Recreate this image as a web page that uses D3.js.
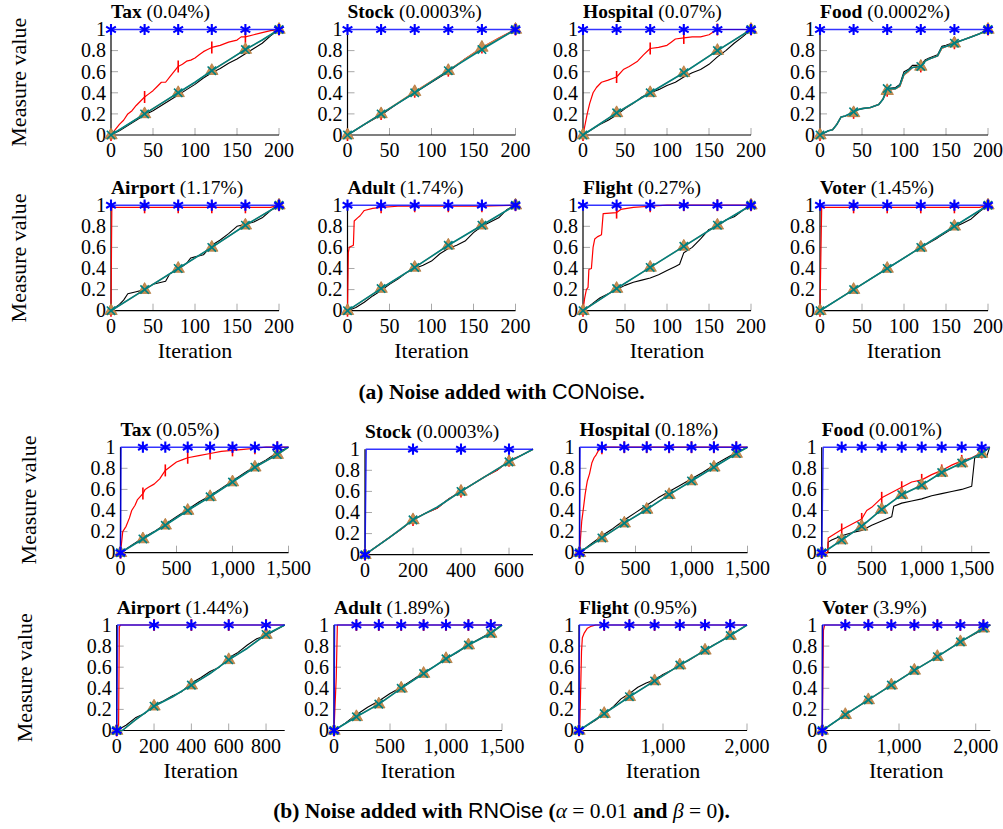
<!DOCTYPE html>
<html lang="en">
<head>
  <meta charset="UTF-8">
  <title>Measure value per iteration</title>
  <style>
    html, body {
      margin: 0;
      padding: 0;
      background: #fff;
    }

    svg text {
      font-family: "Liberation Serif", "Times New Roman", serif;
      fill: #000;
    }

    .tick-label { font-size: 20px; }
    .title { font-size: 19.5px; }
    .axis-label { font-size: 22px; }
    .caption { font-size: 21.5px; }
    .sans { font-family: "Liberation Sans", Arial, sans-serif; }
  </style>
</head>
<body>
  <script src="https://d3js.org/d3.v7.min.js"></script>
  <script>
    // ---- data: [iteration, measure value] ----------------------------------

    // (a) noise added with CONoise, 200 iterations
    const blueA = [[0, 1], [40, 1], [80, 1], [120, 1], [160, 1], [200, 1]]

    const taxA_red = [[0, 0], [5, 0.05], [10, 0.1], [15, 0.14], [20, 0.2], [25, 0.23], [30, 0.28], [35, 0.32], [40, 0.36], [45, 0.39], [50, 0.42], [55, 0.46], [60, 0.5], [65, 0.5], [70, 0.55], [75, 0.6], [80, 0.65], [85, 0.67], [90, 0.7], [95, 0.71], [100, 0.73], [105, 0.76], [110, 0.79], [115, 0.81], [120, 0.83], [130, 0.85], [140, 0.88], [150, 0.9], [155, 0.93], [160, 0.93], [170, 0.95], [180, 0.97], [190, 0.99], [200, 1]]
    const taxA_black = [[0, 0], [10, 0.04], [20, 0.09], [30, 0.14], [40, 0.19], [50, 0.23], [60, 0.28], [70, 0.33], [80, 0.38], [90, 0.43], [100, 0.48], [110, 0.54], [120, 0.59], [130, 0.63], [140, 0.68], [150, 0.72], [160, 0.77], [170, 0.82], [180, 0.87], [190, 0.94], [200, 1]]
    const taxA_teal = [[0, 0], [20, 0.1], [40, 0.2], [60, 0.3], [80, 0.4], [100, 0.5], [120, 0.61], [140, 0.71], [160, 0.81], [180, 0.9], [200, 1]]

    const stockA_red = [[0, 0], [20, 0.1], [40, 0.2], [60, 0.3], [80, 0.41], [100, 0.51], [120, 0.61], [140, 0.72], [160, 0.83], [180, 0.92], [200, 1]]
    const stockA_black = [[0, 0], [20, 0.1], [40, 0.19], [60, 0.3], [80, 0.4], [100, 0.5], [120, 0.6], [140, 0.72], [160, 0.82], [180, 0.91], [200, 1]]
    const stockA_teal = [[0, 0], [40, 0.2], [80, 0.4], [120, 0.61], [160, 0.81], [200, 1]]
    const stockA_orange = [[0, 0], [40, 0.2], [80, 0.41], [120, 0.61], [160, 0.83], [200, 1]]

    const hospA_red = [[0, 0], [2, 0.08], [5, 0.2], [8, 0.3], [12, 0.4], [16, 0.45], [22, 0.5], [30, 0.52], [40, 0.55], [48, 0.62], [55, 0.65], [65, 0.7], [72, 0.76], [80, 0.82], [90, 0.83], [100, 0.85], [105, 0.88], [110, 0.91], [120, 0.92], [130, 0.93], [140, 0.93], [150, 0.95], [156, 0.98], [160, 1], [200, 1]]
    const hospA_black = [[0, 0], [10, 0.05], [20, 0.1], [30, 0.14], [40, 0.19], [50, 0.25], [60, 0.3], [70, 0.36], [80, 0.4], [90, 0.43], [100, 0.47], [110, 0.5], [120, 0.55], [130, 0.59], [140, 0.62], [150, 0.67], [160, 0.74], [170, 0.8], [180, 0.87], [190, 0.93], [200, 1]]
    const hospA_teal = [[0, 0], [40, 0.21], [80, 0.4], [120, 0.59], [160, 0.8], [200, 1]]

    const foodA_red = [[0, 0], [10, 0.04], [15, 0.05], [20, 0.1], [25, 0.17], [30, 0.18], [40, 0.21], [45, 0.24], [50, 0.25], [60, 0.26], [70, 0.29], [75, 0.34], [80, 0.42], [90, 0.44], [95, 0.46], [100, 0.57], [105, 0.6], [110, 0.64], [120, 0.65], [125, 0.7], [130, 0.72], [140, 0.75], [145, 0.82], [150, 0.84], [160, 0.87], [170, 0.9], [180, 0.93], [190, 0.96], [200, 1]]
    const foodA_black = [[0, 0], [10, 0.04], [15, 0.05], [20, 0.1], [25, 0.17], [30, 0.18], [40, 0.21], [45, 0.24], [50, 0.25], [60, 0.26], [70, 0.29], [75, 0.34], [80, 0.44], [90, 0.45], [95, 0.48], [100, 0.6], [105, 0.62], [110, 0.66], [120, 0.66], [125, 0.71], [130, 0.73], [140, 0.76], [145, 0.84], [150, 0.85], [160, 0.88], [170, 0.9], [180, 0.93], [190, 0.96], [200, 1]]
    const foodA_teal = [[0, 0], [10, 0.04], [15, 0.05], [20, 0.1], [25, 0.17], [30, 0.18], [40, 0.22], [45, 0.24], [50, 0.25], [60, 0.26], [70, 0.29], [75, 0.34], [80, 0.44], [90, 0.44], [95, 0.47], [100, 0.58], [105, 0.61], [110, 0.64], [120, 0.65], [125, 0.7], [130, 0.72], [140, 0.75], [145, 0.83], [150, 0.84], [160, 0.87], [170, 0.9], [180, 0.93], [190, 0.96], [200, 1]]

    const airA_red = [[0, 0], [1, 0.98], [40, 0.98], [80, 0.98], [120, 0.98], [160, 0.98], [190, 0.98], [200, 1]]
    const airA_black = [[0, 0], [5, 0.03], [10, 0.06], [15, 0.1], [20, 0.16], [30, 0.18], [40, 0.2], [50, 0.25], [60, 0.27], [65, 0.28], [70, 0.35], [80, 0.39], [90, 0.45], [95, 0.5], [100, 0.51], [110, 0.53], [120, 0.62], [130, 0.67], [140, 0.73], [150, 0.8], [160, 0.82], [170, 0.84], [180, 0.88], [190, 0.95], [200, 1]]
    const airA_teal = [[0, 0], [40, 0.2], [80, 0.4], [120, 0.6], [160, 0.81], [200, 1]]

    const adultA_red = [[0, 0], [1, 0.55], [2, 0.6], [7, 0.62], [8, 0.85], [12, 0.88], [15, 0.9], [20, 0.95], [30, 0.97], [40, 0.98], [60, 0.99], [80, 0.99], [120, 0.99], [160, 0.99], [200, 1]]
    const adultA_black = [[0, 0], [10, 0.03], [20, 0.08], [30, 0.14], [40, 0.19], [50, 0.25], [60, 0.3], [70, 0.36], [80, 0.4], [90, 0.43], [100, 0.47], [110, 0.54], [120, 0.59], [130, 0.62], [140, 0.66], [150, 0.74], [160, 0.8], [170, 0.84], [180, 0.88], [190, 0.96], [200, 1]]
    const adultA_teal = [[0, 0], [40, 0.21], [80, 0.41], [120, 0.62], [160, 0.81], [200, 1]]

    const flightA_red = [[0, 0], [2, 0.12], [4, 0.2], [6, 0.22], [7, 0.39], [10, 0.4], [12, 0.6], [14, 0.68], [17, 0.7], [22, 0.72], [24, 0.92], [40, 0.93], [45, 0.96], [60, 0.98], [80, 0.99], [100, 1], [120, 1], [160, 1], [200, 1]]
    const flightA_black = [[0, 0], [10, 0.06], [20, 0.12], [30, 0.16], [40, 0.2], [50, 0.24], [60, 0.27], [70, 0.29], [80, 0.31], [90, 0.34], [100, 0.38], [110, 0.42], [115, 0.44], [120, 0.55], [130, 0.6], [140, 0.68], [150, 0.77], [160, 0.8], [170, 0.86], [180, 0.89], [190, 0.95], [200, 1]]
    const flightA_teal = [[0, 0], [40, 0.21], [80, 0.41], [120, 0.61], [160, 0.81], [200, 1]]

    const voterA_red = [[0, 0], [1, 0.5], [2, 0.98], [40, 0.98], [80, 0.98], [120, 0.98], [160, 0.98], [190, 0.98], [200, 1]]
    const voterA_black = [[0, 0], [20, 0.1], [40, 0.2], [60, 0.3], [80, 0.4], [100, 0.5], [120, 0.6], [140, 0.69], [160, 0.79], [170, 0.83], [180, 0.87], [190, 0.94], [200, 1]]
    const voterA_teal = [[0, 0], [40, 0.2], [80, 0.4], [120, 0.6], [160, 0.8], [200, 1]]

    // (b) noise added with RNOise
    const taxB_blue = [[0, 0], [5, 1], [200, 1], [400, 1], [600, 1], [800, 1], [1000, 1], [1200, 1], [1400, 1], [1500, 1]]
    const taxB_red = [[0, 0], [10, 0.1], [20, 0.2], [50, 0.25], [80, 0.33], [100, 0.4], [130, 0.45], [150, 0.5], [200, 0.56], [220, 0.6], [250, 0.62], [300, 0.65], [350, 0.7], [400, 0.78], [450, 0.82], [500, 0.86], [550, 0.88], [600, 0.9], [700, 0.92], [800, 0.94], [900, 0.96], [1000, 0.97], [1100, 0.98], [1200, 0.99], [1300, 1], [1400, 1], [1500, 1]]
    const taxB_black = [[0, 0], [100, 0.07], [200, 0.14], [300, 0.2], [400, 0.27], [500, 0.34], [600, 0.41], [700, 0.48], [800, 0.54], [900, 0.61], [1000, 0.68], [1100, 0.75], [1200, 0.82], [1300, 0.88], [1400, 0.95], [1500, 1]]
    const taxB_teal = [[0, 0], [200, 0.13], [400, 0.26], [600, 0.4], [800, 0.53], [1000, 0.67], [1200, 0.81], [1400, 0.93], [1500, 1]]

    const stockB_blue = [[0, 0], [5, 1], [200, 1], [400, 1], [600, 1], [700, 1]]
    const stockB_black = [[0, 0], [50, 0.08], [100, 0.16], [150, 0.24], [200, 0.33], [250, 0.39], [300, 0.44], [350, 0.53], [400, 0.6], [450, 0.67], [500, 0.74], [550, 0.8], [600, 0.89], [650, 0.94], [700, 1]]
    const stockB_teal = [[0, 0], [100, 0.16], [200, 0.33], [300, 0.45], [400, 0.6], [500, 0.74], [600, 0.88], [700, 1]]

    const hospB_blue = [[0, 0], [5, 1], [200, 1], [400, 1], [600, 1], [800, 1], [1000, 1], [1200, 1], [1400, 1], [1500, 1]]
    const hospB_red = [[0, 0], [10, 0.15], [20, 0.3], [30, 0.38], [50, 0.55], [60, 0.62], [70, 0.68], [90, 0.75], [110, 0.85], [130, 0.9], [150, 0.93], [170, 0.97], [190, 0.98], [200, 0.99], [215, 1], [400, 1], [600, 1], [800, 1], [1000, 1], [1200, 1], [1400, 1], [1500, 1]]
    const hospB_black = [[0, 0], [100, 0.08], [200, 0.16], [300, 0.23], [400, 0.31], [500, 0.38], [600, 0.45], [700, 0.52], [800, 0.58], [900, 0.64], [1000, 0.7], [1100, 0.76], [1200, 0.83], [1300, 0.89], [1400, 0.95], [1500, 1]]
    const hospB_teal = [[0, 0], [200, 0.14], [400, 0.28], [600, 0.41], [800, 0.55], [1000, 0.68], [1200, 0.81], [1400, 0.94], [1500, 1]]

    const foodB_blue = [[0, 0], [15, 1], [200, 1], [400, 1], [600, 1], [800, 1], [1000, 1], [1200, 1], [1400, 1], [1600, 1], [1680, 1]]
    const foodB_red = [[0, 0], [60, 0], [65, 0.14], [100, 0.16], [200, 0.22], [300, 0.27], [400, 0.32], [450, 0.4], [500, 0.43], [600, 0.52], [700, 0.57], [800, 0.62], [900, 0.67], [1000, 0.69], [1100, 0.74], [1200, 0.78], [1300, 0.83], [1400, 0.87], [1500, 0.9], [1600, 0.95], [1680, 1]]
    const foodB_black = [[0, 0], [60, 0], [65, 0.1], [100, 0.12], [200, 0.16], [300, 0.19], [400, 0.21], [500, 0.26], [600, 0.3], [700, 0.34], [720, 0.44], [800, 0.47], [900, 0.49], [1000, 0.51], [1100, 0.54], [1200, 0.56], [1300, 0.58], [1400, 0.6], [1500, 0.63], [1530, 0.9], [1600, 0.91], [1650, 0.91], [1680, 1]]
    const foodB_teal = [[0, 0], [60, 0.03], [200, 0.12], [400, 0.25], [600, 0.41], [800, 0.55], [1000, 0.64], [1200, 0.76], [1400, 0.85], [1600, 0.94], [1680, 1]]

    const airB_blue = [[0, 0], [5, 1], [200, 1], [400, 1], [600, 1], [800, 1], [900, 1]]
    const airB_red = [[0, 0], [10, 0], [14, 0.98], [20, 1], [200, 1], [400, 1], [600, 1], [800, 1], [900, 1]]
    const airB_black = [[0, 0], [50, 0.05], [100, 0.12], [150, 0.16], [200, 0.24], [250, 0.28], [300, 0.33], [350, 0.37], [400, 0.45], [450, 0.5], [500, 0.56], [550, 0.6], [600, 0.69], [650, 0.74], [700, 0.81], [750, 0.87], [800, 0.9], [850, 0.95], [900, 1]]
    const airB_teal = [[0, 0], [30, 0], [100, 0.1], [200, 0.23], [300, 0.32], [400, 0.43], [500, 0.54], [600, 0.67], [700, 0.78], [800, 0.91], [900, 1]]

    const adultB_blue = [[0, 0], [5, 1], [200, 1], [400, 1], [600, 1], [800, 1], [1000, 1], [1200, 1], [1400, 1], [1500, 1]]
    const adultB_red = [[0, 0], [20, 0.5], [30, 1], [200, 1], [400, 1], [600, 1], [800, 1], [1000, 1], [1200, 1], [1400, 1], [1500, 1]]
    const adultB_black = [[0, 0], [100, 0.07], [200, 0.15], [300, 0.22], [400, 0.28], [500, 0.35], [600, 0.41], [700, 0.48], [800, 0.55], [900, 0.61], [1000, 0.68], [1100, 0.74], [1200, 0.81], [1300, 0.87], [1400, 0.93], [1500, 1]]
    const adultB_teal = [[0, 0], [200, 0.13], [400, 0.25], [600, 0.4], [800, 0.54], [1000, 0.68], [1200, 0.81], [1400, 0.92], [1500, 1]]

    const flightB_blue = [[0, 0], [5, 1], [300, 1], [600, 1], [900, 1], [1200, 1], [1500, 1], [1800, 1], [2000, 1]]
    const flightB_red = [[0, 0], [10, 0.05], [20, 0.4], [30, 0.75], [40, 0.88], [60, 0.92], [100, 0.97], [150, 0.99], [200, 1], [300, 1], [600, 1], [900, 1], [1200, 1], [1500, 1], [1800, 1], [2000, 1]]
    const flightB_black = [[0, 0], [100, 0.05], [200, 0.1], [300, 0.16], [400, 0.22], [500, 0.3], [600, 0.35], [700, 0.41], [800, 0.45], [900, 0.48], [1000, 0.53], [1100, 0.57], [1200, 0.62], [1300, 0.66], [1400, 0.71], [1500, 0.76], [1600, 0.81], [1700, 0.85], [1800, 0.9], [1900, 0.95], [2000, 1]]
    const flightB_teal = [[0, 0], [300, 0.16], [600, 0.32], [900, 0.47], [1200, 0.62], [1500, 0.76], [1800, 0.9], [2000, 1]]

    const voterB_blue = [[0, 0], [5, 1], [300, 1], [600, 1], [900, 1], [1200, 1], [1500, 1], [1800, 1], [2100, 1], [2190, 1]]
    const voterB_red = [[0, 0], [15, 0.95], [30, 1], [300, 1], [600, 1], [900, 1], [1200, 1], [1500, 1], [1800, 1], [2100, 1], [2190, 1]]
    const voterB_black = [[0, 0], [300, 0.15], [600, 0.29], [900, 0.43], [1050, 0.5], [1200, 0.57], [1500, 0.7], [1800, 0.84], [1950, 0.9], [2100, 0.96], [2190, 1]]
    const voterB_teal = [[0, 0], [300, 0.15], [600, 0.29], [900, 0.43], [1200, 0.57], [1500, 0.7], [1800, 0.84], [2100, 0.97], [2190, 1]]

    // tick values
    const yTicks = [0, 0.2, 0.4, 0.6, 0.8, 1]
    const ticksA = [0, 50, 100, 150, 200]
    const ticks1500 = [0, 500, 1000, 1500]
    const ticks700 = [0, 200, 400, 600]
    const ticks900 = [0, 200, 400, 600, 800]
    const ticks2000 = [0, 1000, 2000]

    const panels = [
      { row: 0, col: 0, name: 'Tax', pct: '(0.04%)', xmax: 200, xticks: ticksA, step: 40, blue: blueA, red: taxA_red, black: taxA_black, orange: taxA_teal, teal: taxA_teal },
      { row: 0, col: 1, name: 'Stock', pct: '(0.0003%)', xmax: 200, xticks: ticksA, step: 40, blue: blueA, red: stockA_red, black: stockA_black, orange: stockA_orange, teal: stockA_teal },
      { row: 0, col: 2, name: 'Hospital', pct: '(0.07%)', xmax: 200, xticks: ticksA, step: 40, blue: blueA, red: hospA_red, black: hospA_black, orange: hospA_teal, teal: hospA_teal },
      { row: 0, col: 3, name: 'Food', pct: '(0.0002%)', xmax: 200, xticks: ticksA, step: 40, blue: blueA, red: foodA_red, black: foodA_black, orange: foodA_red, teal: foodA_teal },
      { row: 1, col: 0, name: 'Airport', pct: '(1.17%)', xmax: 200, xticks: ticksA, step: 40, blue: blueA, red: airA_red, black: airA_black, orange: airA_teal, teal: airA_teal },
      { row: 1, col: 1, name: 'Adult', pct: '(1.74%)', xmax: 200, xticks: ticksA, step: 40, blue: blueA, red: adultA_red, black: adultA_black, orange: adultA_teal, teal: adultA_teal },
      { row: 1, col: 2, name: 'Flight', pct: '(0.27%)', xmax: 200, xticks: ticksA, step: 40, blue: blueA, red: flightA_red, black: flightA_black, orange: flightA_teal, teal: flightA_teal },
      { row: 1, col: 3, name: 'Voter', pct: '(1.45%)', xmax: 200, xticks: ticksA, step: 40, blue: blueA, red: voterA_red, black: voterA_black, orange: voterA_teal, teal: voterA_teal },
      { row: 2, col: 0, name: 'Tax', pct: '(0.05%)', xmax: 1500, xticks: ticks1500, step: 200, blue: taxB_blue, red: taxB_red, black: taxB_black, orange: taxB_teal, teal: taxB_teal },
      { row: 2, col: 1, name: 'Stock', pct: '(0.0003%)', xmax: 700, xticks: ticks700, step: 200, blue: stockB_blue, red: stockB_black, black: stockB_black, orange: stockB_teal, teal: stockB_teal },
      { row: 2, col: 2, name: 'Hospital', pct: '(0.18%)', xmax: 1500, xticks: ticks1500, step: 200, blue: hospB_blue, red: hospB_red, black: hospB_black, orange: hospB_teal, teal: hospB_teal },
      { row: 2, col: 3, name: 'Food', pct: '(0.001%)', xmax: 1680, xticks: ticks1500, step: 200, blue: foodB_blue, red: foodB_red, black: foodB_black, orange: foodB_teal, teal: foodB_teal },
      { row: 3, col: 0, name: 'Airport', pct: '(1.44%)', xmax: 900, xticks: ticks900, step: 200, blue: airB_blue, red: airB_red, black: airB_black, orange: airB_teal, teal: airB_teal },
      { row: 3, col: 1, name: 'Adult', pct: '(1.89%)', xmax: 1500, xticks: ticks1500, step: 200, blue: adultB_blue, red: adultB_red, black: adultB_black, orange: adultB_teal, teal: adultB_teal },
      { row: 3, col: 2, name: 'Flight', pct: '(0.95%)', xmax: 2000, xticks: ticks2000, step: 300, blue: flightB_blue, red: flightB_red, black: flightB_black, orange: flightB_teal, teal: flightB_teal },
      { row: 3, col: 3, name: 'Voter', pct: '(3.9%)', xmax: 2190, xticks: ticks2000, step: 300, blue: voterB_blue, red: voterB_red, black: voterB_black, orange: voterB_teal, teal: voterB_teal },
    ]

    // ---- layout -------------------------------------------------------------

    const width = 1003, height = 829
    const plotW = 168, plotH = 105.5
    const rowZero = [135, 310.7, 552.7, 730.5]
    const colLeft = [
      [111, 347.5, 583, 820],
      [111, 347.5, 583, 820],
      [120.5, 365, 579.5, 821.7],
      [116.7, 334, 579, 822.3],
    ]
    const panelShift = { '2-1': 2 }

    const styles = {
      black:  { color: '#000000', width: 1.1, mark: 'none' },
      red:    { color: '#ff0000', width: 1.2, mark: 'bar' },
      orange: { color: '#c98c50', width: 1.3, mark: 'triangle' },
      teal:   { color: '#008080', width: 1.6, mark: 'cross' },
      blue:   { color: '#0000ff', width: 1.5, mark: 'asterisk', opacity: 0.8 },
    }
    const drawOrder = ['black', 'red', 'orange', 'teal', 'blue']

    const markPath = (type) => {
      const p = d3.path()
      if (type === 'asterisk') {
        const r = 5.6, c = r * Math.cos(Math.PI / 6), s = r * Math.sin(Math.PI / 6)
        p.moveTo(0, -r); p.lineTo(0, r)
        p.moveTo(-c, -s); p.lineTo(c, s)
        p.moveTo(-c, s); p.lineTo(c, -s)
      } else if (type === 'bar') {
        p.moveTo(0, -6); p.lineTo(0, 6)
      } else if (type === 'triangle') {
        p.moveTo(0, -7); p.lineTo(6.2, 3.8); p.lineTo(-6.2, 3.8); p.closePath()
      } else if (type === 'cross') {
        const r = 4.2
        p.moveTo(-r, -r); p.lineTo(r, r)
        p.moveTo(-r, r); p.lineTo(r, -r)
      }
      return p.toString()
    }

    const svg = d3.select('body')
      .append('svg')
      .attr('width', width)
      .attr('height', height)

    const fmt = d3.format(',')

    panels.forEach(p => {
      const dy = panelShift[`${p.row}-${p.col}`] || 0
      const left = colLeft[p.row][p.col]
      const y0 = rowZero[p.row] + dy
      const g = svg.append('g').attr('transform', `translate(${left},${y0 - plotH})`)

      const x = d3.scaleLinear().domain([0, p.xmax]).range([0, plotW])
      const y = d3.scaleLinear().domain([0, 1]).range([plotH, 0])

      // inward grey ticks
      g.append('g')
        .selectAll('line')
        .data(p.xticks.filter(v => v > 0))
        .join('line')
          .attr('x1', d => x(d)).attr('x2', d => x(d))
          .attr('y1', plotH).attr('y2', plotH - 7)
          .attr('stroke', '#a8a8a8').attr('stroke-width', 1)
      g.append('g')
        .selectAll('line')
        .data(yTicks.filter(v => v > 0 && v < 1))
        .join('line')
          .attr('x1', 0).attr('x2', 7)
          .attr('y1', d => y(d)).attr('y2', d => y(d))
          .attr('stroke', '#a8a8a8').attr('stroke-width', 1)

      // axis lines
      g.append('line').attr('x1', 0).attr('x2', plotW).attr('y1', plotH).attr('y2', plotH)
        .attr('stroke', '#000').attr('stroke-width', 1.2)
      g.append('line').attr('x1', 0).attr('x2', 0).attr('y1', 0).attr('y2', plotH)
        .attr('stroke', '#000').attr('stroke-width', 1.2)

      // tick labels
      g.append('g')
        .selectAll('text')
        .data(p.xticks)
        .join('text')
          .attr('class', 'tick-label')
          .attr('x', d => x(d))
          .attr('y', plotH + 22)
          .attr('text-anchor', 'middle')
          .text(d => fmt(d))
      g.append('g')
        .selectAll('text')
        .data(yTicks)
        .join('text')
          .attr('class', 'tick-label')
          .attr('x', -5)
          .attr('y', d => y(d))
          .attr('dy', '0.34em')
          .attr('text-anchor', 'end')
          .text(d => d)

      // series
      const line = d3.line().x(d => x(d[0])).y(d => y(d[1]))
      drawOrder.forEach(key => {
        const st = styles[key]
        const data = p[key]
        g.append('path')
          .attr('d', line(data))
          .attr('fill', 'none')
          .attr('stroke', st.color)
          .attr('stroke-width', st.width)
          .attr('stroke-opacity', st.opacity || 1)
          .attr('stroke-linejoin', 'round')
        if (st.mark === 'none') return
        const marks = data.filter(d => d[0] % p.step === 0)
        g.append('g')
          .selectAll('path')
          .data(marks)
          .join('path')
            .attr('transform', d => `translate(${x(d[0])},${y(d[1])})`)
            .attr('d', markPath(st.mark))
            .attr('fill', st.mark === 'triangle' ? st.color : 'none')
            .attr('stroke', st.mark === 'triangle' ? '#b37a3e' : st.color)
            .attr('stroke-width', st.mark === 'triangle' ? 0.8 : (st.mark === 'asterisk' ? 2.1 : 1.6))
      })

      // title
      const title = g.append('text')
        .attr('class', 'title')
        .attr('x', 0)
        .attr('y', -11.5)
      title.append('tspan').attr('font-weight', 'bold').text(p.name)
      title.append('tspan').text(' ' + p.pct)

      if (p.col === 0) {
        g.append('text')
          .attr('class', 'axis-label')
          .attr('transform', `translate(-85,${plotH / 2}) rotate(-90)`)
          .attr('text-anchor', 'middle')
          .text('Measure value')
      }
      if (p.row === 1 || p.row === 3) {
        g.append('text')
          .attr('class', 'axis-label')
          .attr('x', plotW / 2)
          .attr('y', plotH + 47.5)
          .attr('text-anchor', 'middle')
          .text('Iteration')
      }
    })

    // captions
    const capA = svg.append('text')
      .attr('class', 'caption')
      .attr('x', width / 2)
      .attr('y', 399)
      .attr('text-anchor', 'middle')
    capA.append('tspan').attr('font-weight', 'bold').text('(a) Noise added with ')
    capA.append('tspan').attr('class', 'sans').text('CONoise')
    capA.append('tspan').attr('font-weight', 'bold').text('.')

    const capB = svg.append('text')
      .attr('class', 'caption')
      .attr('x', width / 2)
      .attr('y', 818)
      .attr('text-anchor', 'middle')
    capB.append('tspan').attr('font-weight', 'bold').text('(b) Noise added with ')
    capB.append('tspan').attr('class', 'sans').text('RNOise')
    capB.append('tspan').attr('font-weight', 'bold').text(' (')
    capB.append('tspan').attr('font-style', 'italic').text('α')
    capB.append('tspan').text(' = 0.01 ')
    capB.append('tspan').attr('font-weight', 'bold').text('and')
    capB.append('tspan').text(' ')
    capB.append('tspan').attr('font-style', 'italic').text('β')
    capB.append('tspan').text(' = 0')
    capB.append('tspan').attr('font-weight', 'bold').text(').')
  </script>
</body>
</html>
